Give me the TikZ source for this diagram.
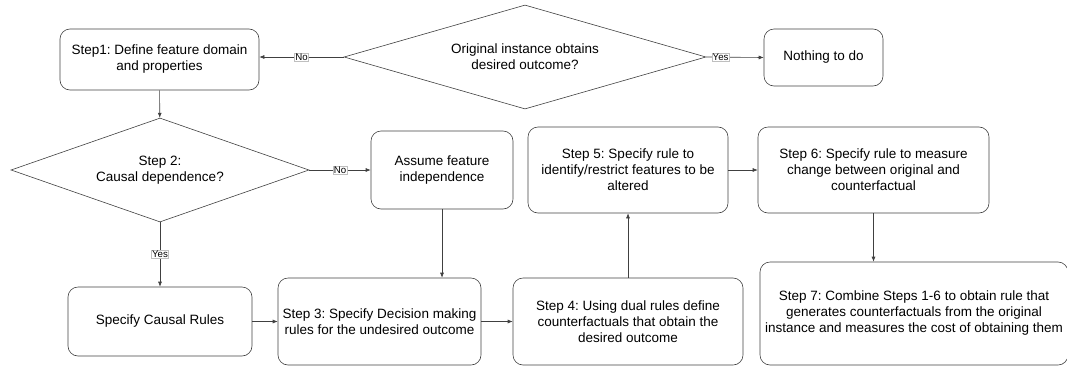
\documentclass[tikz,border=0pt]{standalone}
\usepackage{fontspec}
\setmainfont{Liberation Sans}
\frenchspacing
\usetikzlibrary{shapes.geometric,arrows.meta,positioning}

\begin{document}
\begin{tikzpicture}[x=1pt,y=1pt]
        \tikzstyle{every node}+=[inner sep=0pt]
        \tikzstyle{stepbox}=[draw=black!75, line width=0.6pt, rounded corners=10pt, align=center, font=\fontsize{13.5}{16}\selectfont]
        \tikzstyle{question}=[draw=black!75, line width=0.6pt, diamond, align=center, font=\fontsize{13.5}{16}\selectfont]
        \tikzstyle{flow}=[draw=black!75, line width=0.6pt, -{Latex[length=5pt,width=4pt]}]
        \tikzstyle{answer}=[fill=white, draw=black!25, line width=0.4pt, inner sep=0.7pt, font=\fontsize{9.7}{10}\selectfont]
        \useasboundingbox (0,0) rectangle (1067,-367);
        \node [stepbox, minimum width=199, minimum height=61] (step1) at (159.5,-59.5) {Step1: Define feature domain\\and properties};
        \node [question, minimum width=362, minimum height=104, shape aspect=3.5] (orig) at (525,-57) {Original instance obtains\\desired outcome?};
        \node [stepbox, minimum width=119, minimum height=57] (nothing) at (823.5,-57.5) {Nothing to do};
        \node [question, minimum width=298, minimum height=104, shape aspect=2.9] (causal) at (160,-170) {Step 2:\\Causal dependence?};
        \node [stepbox, minimum width=142, minimum height=78] (indep) at (442,-170) {Assume feature\\independence};
        \node [stepbox, minimum width=184, minimum height=69] (rules) at (160,-321.5) {Specify Causal Rules};
        \node [stepbox, minimum width=203, minimum height=87] (step3) at (379.5,-321.5) {Step 3: Specify Decision making\\rules for the undesired outcome};
        \node [stepbox, minimum width=230, minimum height=87] (step4) at (628,-321.5) {Step 4: Using dual rules define\\counterfactuals that obtain the\\desired outcome};
        \node [stepbox, minimum width=200, minimum height=86] (step5) at (628,-170) {Step 5: Specify rule to\\identify/restrict features to be\\altered};
        \node [stepbox, minimum width=231, minimum height=86] (step6) at (873.5,-170) {Step 6: Specify rule to measure\\change between original and\\counterfactual};
        \node [stepbox, minimum width=308, minimum height=103] (step7) at (914,-313.5) {Step 7: Combine Steps 1-6 to obtain rule that\\generates counterfactuals from the original\\instance and measures the cost of obtaining them};
        \draw [flow] (orig.west) -- node [answer] {No} (orig.west -| step1.east);
        \draw [flow] (orig.east) -- node [answer, pos=0.25] {Yes} (nothing.west);
        \draw [flow] (step1) -- (causal);
        \draw [flow] (causal.east) -- node [answer] {No} (indep.west);
        \draw [flow] (causal.south) -- node [answer] {Yes} (rules.north);
        \draw [flow] (indep.south) -- (indep.south |- step3.north);
        \draw [flow] (rules) -- (step3);
        \draw [flow] (step3) -- (step4);
        \draw [flow] (step4) -- (step5);
        \draw [flow] (step5) -- (step6);
        \draw [flow] (step6.south) -- (step6.south |- step7.north);
    \end{tikzpicture}
\end{document}
